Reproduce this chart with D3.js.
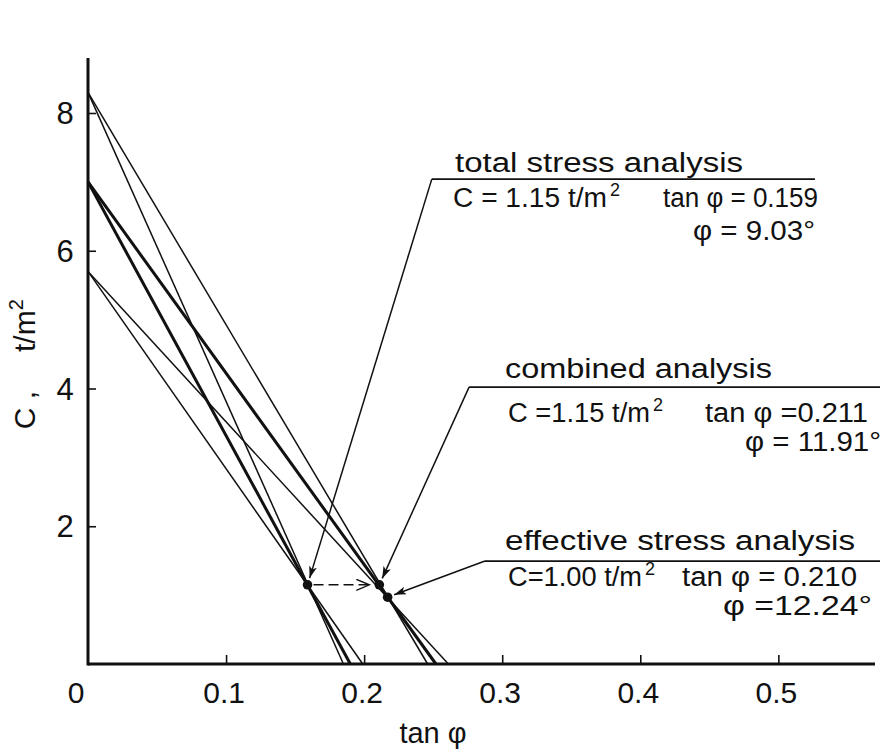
<!DOCTYPE html>
<html><head><meta charset="utf-8">
<script src="https://cdn.jsdelivr.net/npm/d3@7"></script>
<style>
html,body{margin:0;padding:0;background:#fff;}
svg{display:block;}
text{font-family:"Liberation Sans","DejaVu Sans",sans-serif;fill:#111;}
</style></head>
<body>
<svg id="c" width="886" height="754"></svg>
<script>
// ---- data ----
const xTicks = [0, 0.1, 0.2, 0.3, 0.4, 0.5];
const xTickLabels = ["0", "0.1", "0.2", "0.3", "0.4", "0.5"];
const yTicks = [2, 4, 6, 8];
const yTickLabels = ["2", "4", "6", "8"];
const cIntercepts = [8.3, 7.0, 5.7];            // C at tanφ = 0
const totalTanIntercepts = [0.185, 0.190, 0.199]; // tanφ at C = 0, total-stress family
const combinedTanIntercepts = [0.246, 0.252, 0.261]; // combined / effective family
const pointNames = ["total", "combined", "effective"];
const pointTan = [0.159, 0.211, 0.217];
const pointC = [1.15, 1.15, 0.97];
const titles = ["total stress analysis", "combined analysis", "effective stress analysis"];
const cTexts = ["C = 1.15 t/m", "C =1.15 t/m", "C=1.00 t/m"];
const tanTexts = ["tan φ = 0.159", "tan φ =0.211", "tan φ = 0.210"];
const phiTexts = ["φ = 9.03°", "φ = 11.91°", "φ =12.24°"];
// annotation underline start (leader corner) and end, in data units
const annTan = [0.249, 0.276, 0.2875];
const annC = [7.04, 4.02, 1.495];
const annEndTan = [0.5265, 0.5736, 0.5736];

// ---- layout ----
const svg = d3.select("#c");
const x = d3.scaleLinear().domain([0, 0.57]).range([88, 875]);
const y = d3.scaleLinear().domain([0, 8]).range([664, 113]);
const yTop = 8.8;

const defs = svg.append("defs");
defs.append("marker").attr("id", "ah").attr("markerUnits", "userSpaceOnUse")
  .attr("markerWidth", 14).attr("markerHeight", 10).attr("refX", 12).attr("refY", 4)
  .attr("orient", "auto")
  .append("path").attr("d", "M0,0 L12,4 L0,8 L3,4 Z").attr("fill", "#111");
defs.append("marker").attr("id", "oh").attr("markerUnits", "userSpaceOnUse")
  .attr("markerWidth", 16).attr("markerHeight", 14).attr("refX", 13).attr("refY", 6)
  .attr("orient", "auto")
  .append("path").attr("d", "M0,0.5 L13,6 L0,11.5").attr("fill", "none").attr("stroke", "#111").attr("stroke-width", 1.4);

// axes
const gx = svg.append("g").attr("transform", `translate(0,${y(0)})`)
  .call(d3.axisTop(x).tickValues(xTicks.slice(1)).tickSize(9).tickFormat(""));
gx.select(".domain").attr("stroke", "#111").attr("stroke-width", 3).attr("d", `M${x(0)},0H${x(0.57)}`);
gx.selectAll(".tick line").attr("stroke", "#111").attr("stroke-width", 1.6);

const gy = svg.append("g").attr("transform", `translate(${x(0)},0)`)
  .call(d3.axisRight(y).tickValues(yTicks).tickSize(8).tickFormat(""));
gy.select(".domain").attr("stroke", "#111").attr("stroke-width", 3).attr("d", `M0,${y(yTop)}V${y(0) + 1.5}`);
gy.selectAll(".tick line").attr("stroke", "#111").attr("stroke-width", 1.6);

// tick labels
svg.selectAll(".xl").data(xTicks).enter().append("text")
  .attr("x", (d, i) => i === 0 ? x(d) - 12 : x(d) - 2).attr("y", 703)
  .attr("text-anchor", "middle").attr("font-size", 30)
  .text((d, i) => xTickLabels[i]);
svg.selectAll(".yl").data(yTicks).enter().append("text")
  .attr("x", x(0) - 23).attr("y", d => y(d) + 11)
  .attr("text-anchor", "middle").attr("font-size", 31)
  .text((d, i) => yTickLabels[i]);

// axis titles
svg.append("text").attr("x", 433).attr("y", 743).attr("text-anchor", "middle")
  .attr("font-size", 29).text("tan φ");
svg.append("text").attr("transform", "translate(35,410) rotate(-90)")
  .attr("text-anchor", "middle").attr("font-size", 30).text("C ,");
const yt = svg.append("text").attr("transform", "translate(35,352) rotate(-90)")
  .attr("text-anchor", "start").attr("font-size", 30);
yt.append("tspan").text("t/m");
yt.append("tspan").attr("dy", -12).attr("font-size", 20).text("2");

// lines
const lineGen = d3.line().x(d => x(d[0])).y(d => y(d[1]));
const families = [totalTanIntercepts, combinedTanIntercepts];
families.forEach(fam => {
  fam.forEach((t0, i) => {
    svg.append("path").attr("d", lineGen([[0, cIntercepts[i]], [t0, 0]]))
      .attr("fill", "none").attr("stroke", "#111")
      .attr("stroke-width", i === 1 ? 3 : 1.5);
  });
});

// dashed arrow total -> combined
svg.append("line")
  .attr("x1", x(pointTan[0]) + 6).attr("y1", y(pointC[0]))
  .attr("x2", x(pointTan[1]) - 10).attr("y2", y(pointC[1]))
  .attr("stroke", "#111").attr("stroke-width", 1.5).attr("stroke-dasharray", "10,5")
  .attr("marker-end", "url(#oh)");

// points
svg.selectAll(".pt").data(pointTan).enter().append("circle")
  .attr("cx", d => x(d)).attr("cy", (d, i) => y(pointC[i])).attr("r", 4.8).attr("fill", "#111");

// annotations
titles.forEach((t, i) => {
  const ax = x(annTan[i]), ay = y(annC[i]);
  const px = x(pointTan[i]), py = y(pointC[i]);
  const dx = px - ax, dy = py - ay, L = Math.hypot(dx, dy);
  const tipX = px - dx / L * 7, tipY = py - dy / L * 7;
  svg.append("line").attr("x1", ax).attr("y1", ay).attr("x2", tipX).attr("y2", tipY)
    .attr("stroke", "#111").attr("stroke-width", 1.5).attr("marker-end", "url(#ah)");
  svg.append("line").attr("x1", ax).attr("y1", ay).attr("x2", x(annEndTan[i])).attr("y2", ay)
    .attr("stroke", "#111").attr("stroke-width", 1.8);
});

// text blocks (pixel layout of labels): [x, baseline, width]
const txt = [
  {title:[455,172,288], c:[453,207,154], tan:[663,207,155], phi:[693,240,122]},
  {title:[505,378,267], c:[508,422,142], tan:[705,422,163], phi:[745,451,136]},
  {title:[505,550,350], c:[508,586,134], tan:[682,586,175], phi:[723,615,149]}
];
const fs = 27;
txt.forEach((b, i) => {
  svg.append("text").attr("x", b.title[0]).attr("y", b.title[1]).attr("font-size", fs)
    .attr("textLength", b.title[2]).attr("lengthAdjust", "spacingAndGlyphs").text(titles[i]);
  svg.append("text").attr("x", b.c[0]).attr("y", b.c[1]).attr("font-size", fs)
    .attr("textLength", b.c[2]).attr("lengthAdjust", "spacingAndGlyphs").text(cTexts[i]);
  svg.append("text").attr("x", b.c[0] + b.c[2] + 3).attr("y", b.c[1] - 11).attr("font-size", 18)
    .text("2");
  svg.append("text").attr("x", b.tan[0]).attr("y", b.tan[1]).attr("font-size", fs)
    .attr("textLength", b.tan[2]).attr("lengthAdjust", "spacingAndGlyphs").text(tanTexts[i]);
  svg.append("text").attr("x", b.phi[0]).attr("y", b.phi[1]).attr("font-size", fs)
    .attr("textLength", b.phi[2]).attr("lengthAdjust", "spacingAndGlyphs").text(phiTexts[i]);
});
</script>
</body></html>
